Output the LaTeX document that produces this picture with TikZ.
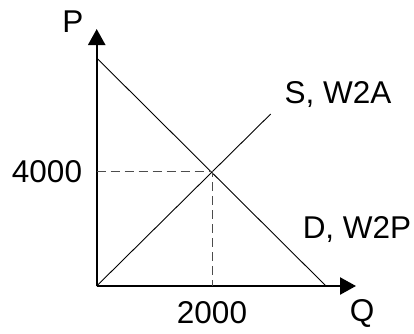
\documentclass[tikz,border=0pt]{standalone}
\usepackage{fontspec}
\setmainfont{Liberation Sans}
\usetikzlibrary{arrows.meta,positioning,calc}

\begin{document}
\begin{tikzpicture}[
        x=1pt, y=1pt,
        axis/.style={draw, line width=2.4pt, -{Triangle[length=16pt,width=17pt]}},
        curve/.style={draw, line width=0.9pt},
        guide/.style={draw, dashed, dash pattern=on 9pt off 5pt, line width=1pt, black!70},
        lbl/.style={font=\fontsize{31.5}{36}\selectfont, inner sep=0pt}
    ]
        \useasboundingbox (0,0) rectangle (414,333);

        % Axes
        \coordinate (o) at (96.7,47);
        \coordinate (ptop) at (96.7,304);
        \coordinate (qend) at (356,47);
        \draw [axis] (o) -- (ptop);
        \draw [axis] (o) -- (qend);

        % Curves
        \coordinate (dtop) at (96.7,275);
        \coordinate (dbot) at (326,47);
        \coordinate (stop) at (270.7,219);
        \coordinate (eq) at (212,161.3);
        \draw [curve] (dtop) -- (dbot);
        \draw [curve] (o) -- (stop);

        % Equilibrium guides
        \coordinate (peq) at (o |- eq);
        \coordinate (qeq) at (o -| eq);
        \draw [guide] (peq) -- (eq) -- (qeq);

        % Labels
        \node (plbl) [lbl] at (73,311) {P};
        \node (qlbl) [lbl] at (362,20) {Q};
        \node (pval) [lbl] at (47,161) {4000};
        \node (qval) [lbl] at (212,20) {2000};
        \node (slbl) [lbl] at (338,238) {S, W2A};
        \node (dlbl) [lbl] at (357,103) {D, W2P};
    \end{tikzpicture}
\end{document}
